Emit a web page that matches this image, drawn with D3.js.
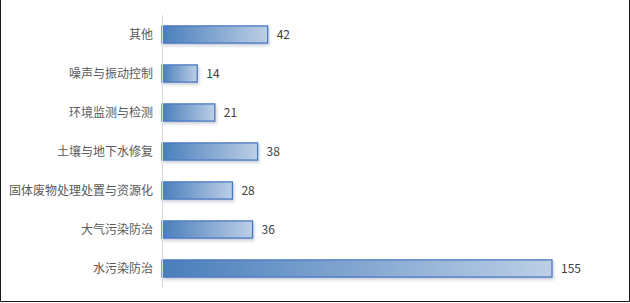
<!DOCTYPE html>
<html>
<head>
<meta charset="utf-8">
<script src="https://cdn.jsdelivr.net/npm/d3@7"></script>
<style>
  body { margin: 0; background: #fff; }
  svg { display: block; font-family: "Noto Sans CJK SC", "Noto Sans", sans-serif; }
</style>
</head>
<body>
<svg id="chart" width="630" height="303"></svg>
<script>
var categories = ['其他', '噪声与振动控制', '环境监测与检测', '土壤与地下水修复', '固体废物处理处置与资源化', '大气污染防治', '水污染防治']
var values = [42, 14, 21, 38, 28, 36, 155]

var svg = d3.select('#chart')
var W = 630, H = 303
var plotLeft = 162, plotTop = 15, plotW = 390, plotH = 273

// outer frame: left, right and bottom edges only
svg.append('path')
  .attr('d', 'M0.5,0V' + (H - 1.5) + 'H' + (W - 0.5) + 'V0')
  .attr('fill', 'none').attr('stroke', '#1a1a1a').attr('stroke-width', 1)

var defs = svg.append('defs')
var grad = defs.append('linearGradient').attr('id', 'barGrad').attr('x1', '0%').attr('x2', '100%').attr('y1', '0%').attr('y2', '0%')
grad.append('stop').attr('offset', '0%').attr('stop-color', '#4a7ebb')
grad.append('stop').attr('offset', '100%').attr('stop-color', '#bccfe6')

var shadow = defs.append('filter').attr('id', 'shadow').attr('x', '-10%').attr('y', '-30%').attr('width', '130%').attr('height', '180%')
shadow.append('feDropShadow').attr('dx', 1).attr('dy', 2).attr('stdDeviation', 1.5).attr('flood-color', '#1f3b66').attr('flood-opacity', 0.25)

var x = d3.scaleLinear().domain([0, 155]).range([plotLeft, plotLeft + plotW])
var y = d3.scaleBand().domain(categories).range([plotTop, plotTop + plotH]).paddingInner(0.56).paddingOuter(0.28)

// bars
svg.selectAll('rect.bar').data(values).enter().append('rect')
  .attr('class', 'bar')
  .attr('x', x(0))
  .attr('y', function (d, i) { return y(categories[i]) })
  .attr('width', function (d) { return x(d) - x(0) })
  .attr('height', y.bandwidth())
  .attr('fill', 'url(#barGrad)')
  .attr('stroke', '#4a78c2')
  .attr('stroke-width', 1.3)
  .attr('filter', 'url(#shadow)')

// category axis line
svg.append('line').attr('x1', plotLeft + 0.5).attr('x2', plotLeft + 0.5).attr('y1', plotTop).attr('y2', plotTop + plotH)
  .attr('stroke', '#d9d9d9').attr('stroke-width', 1)

// category labels
svg.selectAll('text.cat').data(categories).enter().append('text')
  .attr('class', 'cat')
  .attr('x', plotLeft - 9)
  .attr('y', function (d) { return y(d) + y.bandwidth() / 2 })
  .attr('dy', '0.35em')
  .attr('text-anchor', 'end')
  .attr('font-size', 12)
  .attr('fill', '#595959')
  .text(function (d) { return d })

// value labels
svg.selectAll('text.val').data(values).enter().append('text')
  .attr('class', 'val')
  .attr('x', function (d) { return x(d) + 9 })
  .attr('y', function (d, i) { return y(categories[i]) + y.bandwidth() / 2 })
  .attr('dy', '0.35em')
  .attr('font-size', 12)
  .attr('fill', '#404040')
  .text(function (d) { return d })
</script>
</body>
</html>
